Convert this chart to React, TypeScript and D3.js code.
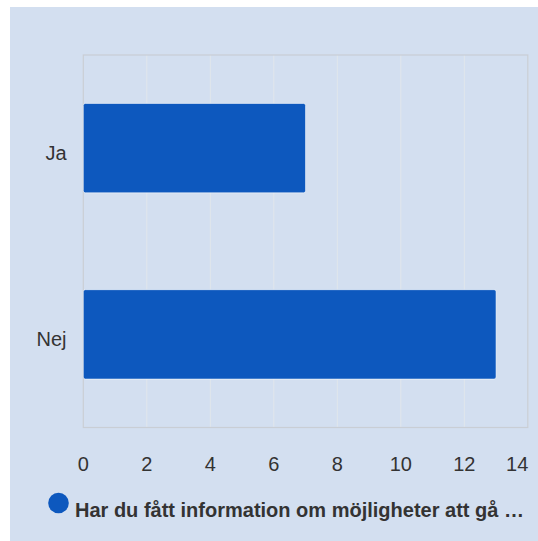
import React from "react";
import * as d3 from "d3";

const categories = ["Ja", "Nej"];
const values = [7, 13];
const xTicks = [0, 2, 4, 6, 8, 10, 12, 14];
const seriesName = "Har du fått information om möjligheter att gå …";

export default function App() {
  const W = 538, H = 541;
  const left = 83.3, right = 527.8, top = 55, bottom = 427.5;
  const x = d3.scaleLinear().domain([0, 14]).range([left, right]);
  const y = d3.scaleBand().domain(categories).range([top, bottom]).paddingInner(0.52).paddingOuter(0.26);
  const font = "Arial, 'Liberation Sans', Helvetica, sans-serif";
  return (
    <svg width={W} height={H} style={{ position: "absolute", left: 0, top: 0 }} fontFamily={font}>
      <rect x={10} y={7} width={528} height={534} fill="#d3dff0" />
      {xTicks.map((t) => (
        <line key={"g" + t} x1={x(t)} x2={x(t)} y1={top} y2={bottom} stroke="#e2e6ec" strokeWidth={1} />
      ))}
      <rect x={left} y={top} width={right - left} height={bottom - top} fill="none" stroke="#c9ced5" strokeWidth={1.2} />
      {categories.map((c, i) => (
        <rect key={c} x={x(0)} y={y(c)!} width={x(values[i]) - x(0)} height={y.bandwidth()}
          fill="#0d58be" stroke="#ffffff" strokeOpacity={0.55} strokeWidth={1} rx={2} />
      ))}
      {categories.map((c) => (
        <text key={"l" + c} x={66.5} y={y(c)! + y.bandwidth() / 2 + 5} dy="0.35em" textAnchor="end" fontSize={20} fill="#333">{c}</text>
      ))}
      {xTicks.map((t, i) => (
        <text key={"t" + t} x={i === xTicks.length - 1 ? right + 0.5 : x(t)} y={470.5}
          textAnchor={i === xTicks.length - 1 ? "end" : "middle"} fontSize={20} fill="#333">{t}</text>
      ))}
      <circle cx={58.5} cy={503} r={10.3} fill="#0d58be" />
      <text x={75} y={516.5} fontSize={20} fontWeight="bold" fill="#333">{seriesName}</text>
    </svg>
  );
}
